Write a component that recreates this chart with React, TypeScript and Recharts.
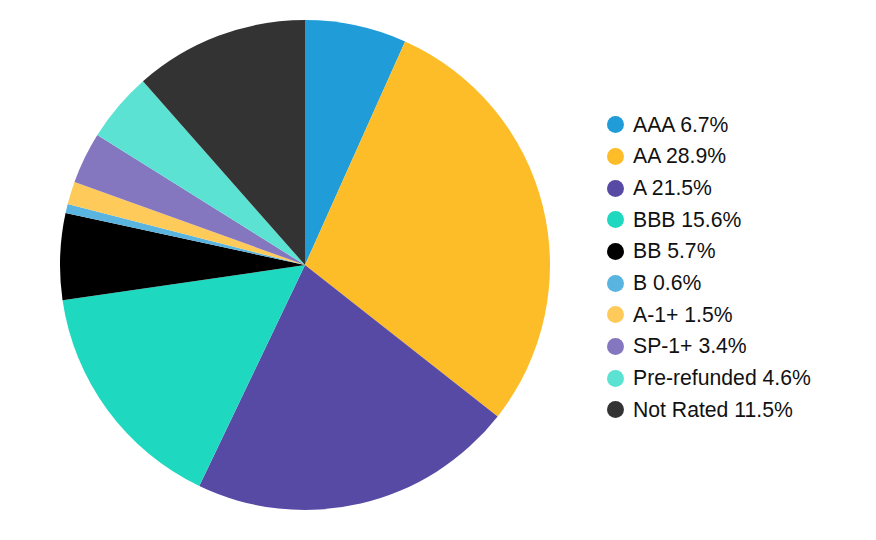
import { PieChart, Pie, Cell, Legend } from 'recharts';

// rating categories, share of portfolio (%) and slice colours
const ratings = ['AAA', 'AA', 'A', 'BBB', 'BB', 'B', 'A-1+', 'SP-1+', 'Pre-refunded', 'Not Rated'];
const shares = [6.7, 28.9, 21.5, 15.6, 5.7, 0.6, 1.5, 3.4, 4.6, 11.5];
const colors = ['#209cd8', '#fdbd28', '#574aa5', '#1ed8c0', '#000000', '#5ab4e0', '#fecb5a', '#8577bf', '#5ce2d2', '#333333'];

const data = ratings.map((name, i) => ({ name, value: shares[i] }));

const RatingLegend = () => (
  <div>
    {data.map((d, i) => (
      <div key={d.name} style={{ display: 'flex', alignItems: 'center', height: 31.67 }}>
        <span
          style={{
            width: 17,
            height: 17,
            borderRadius: '50%',
            background: colors[i],
            display: 'inline-block',
            marginRight: 9,
          }}
        />
        <span style={{ fontSize: 21.2, color: '#111', fontFamily: 'Liberation Sans, Arial, sans-serif' }}>
          {d.name} {d.value.toFixed(1)}%
        </span>
      </div>
    ))}
  </div>
);

export default function App() {
  return (
    <div style={{ margin: -8, width: 876, height: 540, background: '#fff' }}>
      <PieChart width={876} height={540} margin={{ top: 0, right: 0, bottom: 0, left: 0 }}>
        <Pie
          data={data}
          dataKey="value"
          nameKey="name"
          cx={305}
          cy={265}
          outerRadius={245}
          startAngle={90}
          endAngle={-270}
          stroke="none"
          isAnimationActive={false}
        >
          {data.map((d, i) => (
            <Cell key={d.name} fill={colors[i]} />
          ))}
        </Pie>
        <Legend
          content={<RatingLegend />}
          layout="vertical"
          wrapperStyle={{ left: 607, top: 109, width: 260 }}
        />
      </PieChart>
    </div>
  );
}
